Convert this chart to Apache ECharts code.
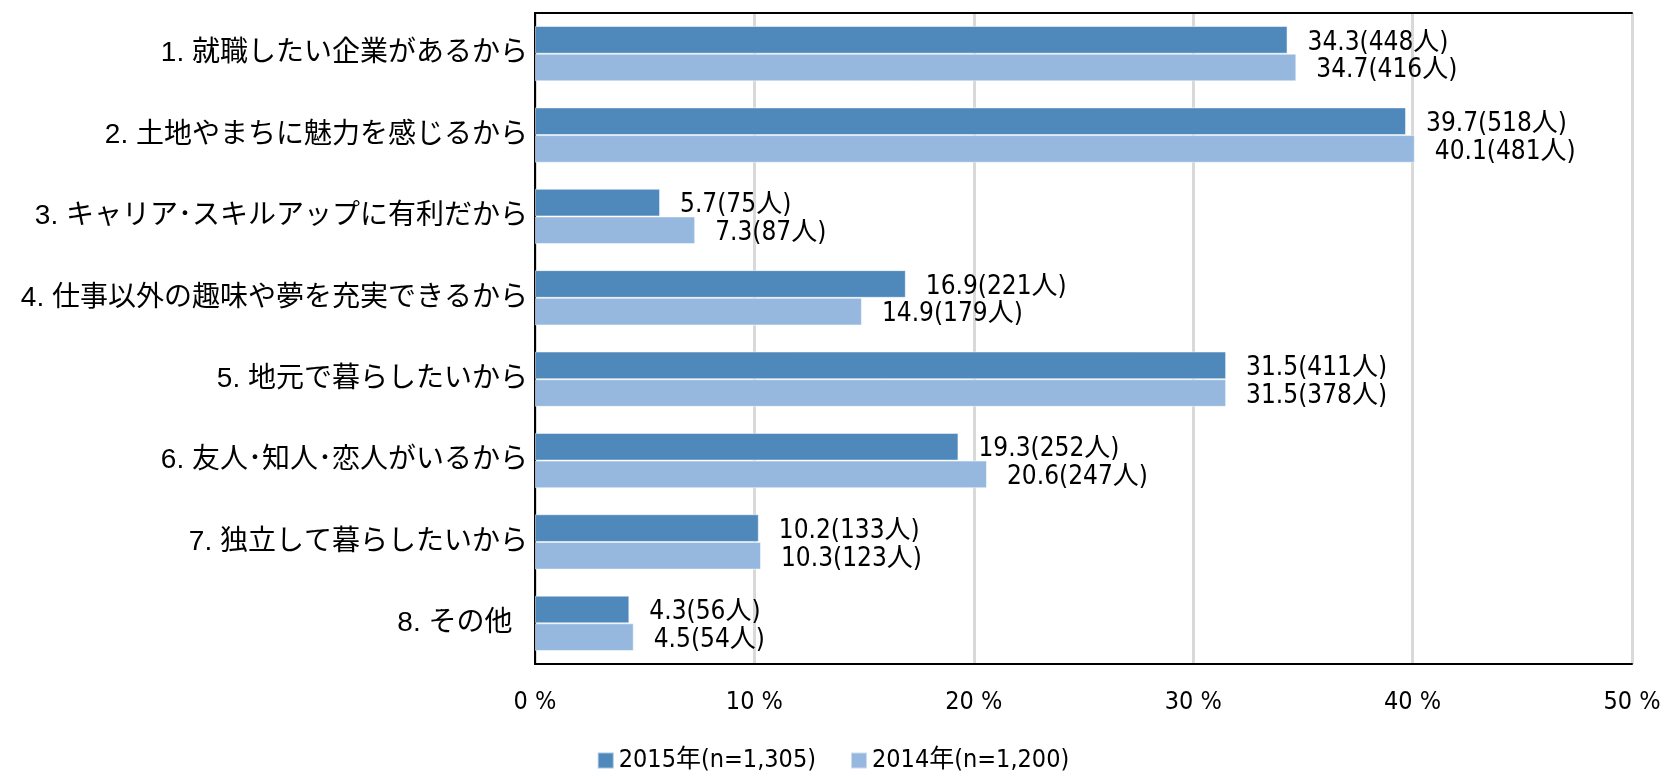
<!DOCTYPE html>
<html>
<head>
<meta charset="utf-8">
<script src="https://cdn.jsdelivr.net/npm/echarts@6/dist/echarts.min.js"></script>
<style>
html,body{margin:0;padding:0;background:#fff;}
#chart{width:1666px;height:778px;}
</style>
</head>
<body>
<div id="chart"></div>
<script>
const categories = [
  '1. 就職したい企業があるから',
  '2. 土地やまちに魅力を感じるから',
  '3. キャリア･スキルアップに有利だから',
  '4. 仕事以外の趣味や夢を充実できるから',
  '5. 地元で暮らしたいから',
  '6. 友人･知人･恋人がいるから',
  '7. 独立して暮らしたいから',
  '8. その他  '
];
const seriesNames = ['2015年(n=1,305)', '2014年(n=1,200)'];
const values2015 = [34.3, 39.7, 5.7, 16.9, 31.5, 19.3, 10.2, 4.3];
const counts2015 = [448, 518, 75, 221, 411, 252, 133, 56];
const values2014 = [34.7, 40.1, 7.3, 14.9, 31.5, 20.6, 10.3, 4.5];
const counts2014 = [416, 481, 87, 179, 378, 247, 123, 54];
const xTickValues = [0, 10, 20, 30, 40, 50];
const xTickSuffix = ' %';

const numFont = '"Liberation Sans Narrow", "DejaVu Sans Condensed", "Noto Sans CJK JP", sans-serif';
const catFont = '"Liberation Sans", Arial, "Noto Sans CJK JP", sans-serif';

const chart = echarts.init(document.getElementById('chart'));

function makeLabel(counts) {
  return {
    show: true,
    position: 'right',
    distance: 20,
    fontFamily: numFont,
    fontSize: 26,
    color: '#000',
    offset: [0, 3],
    formatter: p => p.value.toFixed(1) + '(' + counts[p.dataIndex] + '人)'
  };
}

const frameLine = { show: true, lineStyle: { color: '#000', width: 2 } };

chart.setOption({
  animation: false,
  backgroundColor: '#fff',
  grid: {
    left: 535, right: 34, top: 13, bottom: 114
  },
  legend: {
    bottom: 0,
    left: 'center',
    itemWidth: 16, itemHeight: 16, itemGap: 34,
    icon: 'rect',
    textStyle: { fontFamily: numFont, fontSize: 25, color: '#000' },
    data: seriesNames
  },
  xAxis: [
    {
      type: 'value',
      position: 'bottom',
      min: 0, max: 50, interval: 10,
      axisLine: frameLine,
      axisTick: { show: false },
      splitLine: { show: true, lineStyle: { color: '#d9d9d9', width: 3 } },
      axisLabel: {
        margin: 26,
        fontFamily: numFont, fontSize: 25, color: '#000',
        formatter: v => xTickValues.includes(v) ? v + xTickSuffix : ''
      }
    },
    {
      type: 'value',
      position: 'top',
      min: 0, max: 50, interval: 10,
      axisLine: frameLine,
      axisTick: { show: false },
      axisLabel: { show: false },
      splitLine: { show: false }
    }
  ],
  yAxis: [
    {
      type: 'category',
      position: 'left',
      inverse: true,
      data: categories,
      axisLine: frameLine,
      axisTick: { show: false },
      axisLabel: { margin: 7, fontFamily: catFont, fontSize: 28, color: '#000' }
    },
    {
      type: 'category',
      position: 'right',
      inverse: true,
      data: categories,
      axisLine: frameLine,
      axisTick: { show: false },
      axisLabel: { show: false },
      splitLine: { show: false }
    }
  ],
  series: [
    {
      name: seriesNames[0], type: 'bar', data: values2015,
      xAxisIndex: 0, yAxisIndex: 0,
      barGap: '0%', barCategoryGap: '32%',
      itemStyle: { color: '#4f88bb', borderColor: 'rgba(255,255,255,0.5)', borderWidth: 1 },
      label: makeLabel(counts2015)
    },
    {
      name: seriesNames[1], type: 'bar', data: values2014,
      xAxisIndex: 0, yAxisIndex: 0,
      barGap: '0%', barCategoryGap: '32%',
      itemStyle: { color: '#96b8de', borderColor: 'rgba(255,255,255,0.5)', borderWidth: 1 },
      label: makeLabel(counts2014)
    }
  ]
});
</script>
</body>
</html>
